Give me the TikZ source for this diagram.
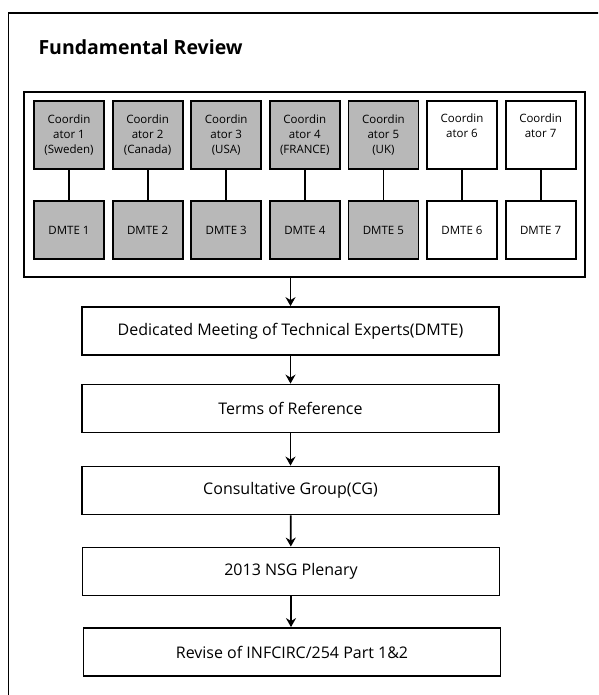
\documentclass[tikz,border=0pt]{standalone}
\usepackage{fontspec}
\setmainfont{Open Sans}
\usetikzlibrary{arrows.meta}
\definecolor{boxgray}{RGB}{184,184,184}
\tikzset{
  frameline/.style={line width=1.8pt},
  unitbox/.style={draw, line width=1.8pt, minimum width=70pt, inner sep=0pt, align=center, font=\fontsize{11.5}{15}\selectfont},
  coordbox/.style={unitbox, minimum height=68pt},
  dmtebox/.style={unitbox, minimum height=58pt},
  shaded/.style={fill=boxgray},
  plain/.style={fill=white},
  stagebox/.style={draw, line width=1.8pt, minimum width=417pt, minimum height=48pt, inner sep=0pt, font=\fontsize{16}{19}\selectfont},
  link/.style={line width=1.8pt},
  flow/.style={line width=1.8pt, -{Stealth[length=9pt,width=10pt,inset=3pt]}}
}
\begin{document}
\begin{tikzpicture}[x=1pt,y=-1pt]
\useasboundingbox (0,0) rectangle (598,695);
\clip (0,0) rectangle (598,695);
% open outer frame (only top and left edges fall inside the page)
\draw[frameline] (8.5,720) -- (8.5,13) -- (620,13);
\node[anchor=west, font=\fontsize{19.5}{22}\selectfont\bfseries] (title) at (35,47) {Fundamental Review};
% grouping box around coordinators and DMTEs
\node[draw, line width=1.8pt, minimum width=561pt, minimum height=185pt, inner sep=0pt] (group) at (304.5,184.5) {};
% coordinators and their DMTEs
\foreach \i/\lab/\sh in {1/{Coordin\\ator 1\\(Sweden)}/shaded,
                         2/{Coordin\\ator 2\\(Canada)}/shaded,
                         3/{Coordin\\ator 3\\(USA)}/shaded,
                         4/{Coordin\\ator 4\\(FRANCE)}/shaded,
                         5/{Coordin\\ator 5\\(UK)}/shaded,
                         6/{Coordin\\ator 6\\\strut}/plain,
                         7/{Coordin\\ator 7\\\strut}/plain}{
  \pgfmathsetmacro{\cx}{69+78.6*(\i-1)}
  \node[coordbox, \sh] (c\i) at (\cx,135) {\lab};
  \node[dmtebox, \sh] (d\i) at (\cx,230) {DMTE \i};
  \draw[link] (c\i) -- (d\i);
}
% process stages
\node[stagebox] (s1) at (290.5,331) {Dedicated Meeting of Technical Experts(DMTE)};
\node[stagebox] (s2) at (290.5,408.5) {Terms of Reference};
\node[stagebox] (s3) at (290.5,490.5) {Consultative Group(CG)};
\node[stagebox] (s4) at (291,571.5) {2013 NSG Plenary};
\node[stagebox] (s5) at (292,652) {Revise of INFCIRC/254 Part 1\&2};
\draw[flow] (group.south -| s1.north) -- (s1.north);
\draw[flow] (s1) -- (s2);
\draw[flow] (s2) -- (s3);
\draw[flow] (s3) -- (s4);
\draw[flow] (s4.south) -- (s4.south |- s5.north);
\end{tikzpicture}
\end{document}
